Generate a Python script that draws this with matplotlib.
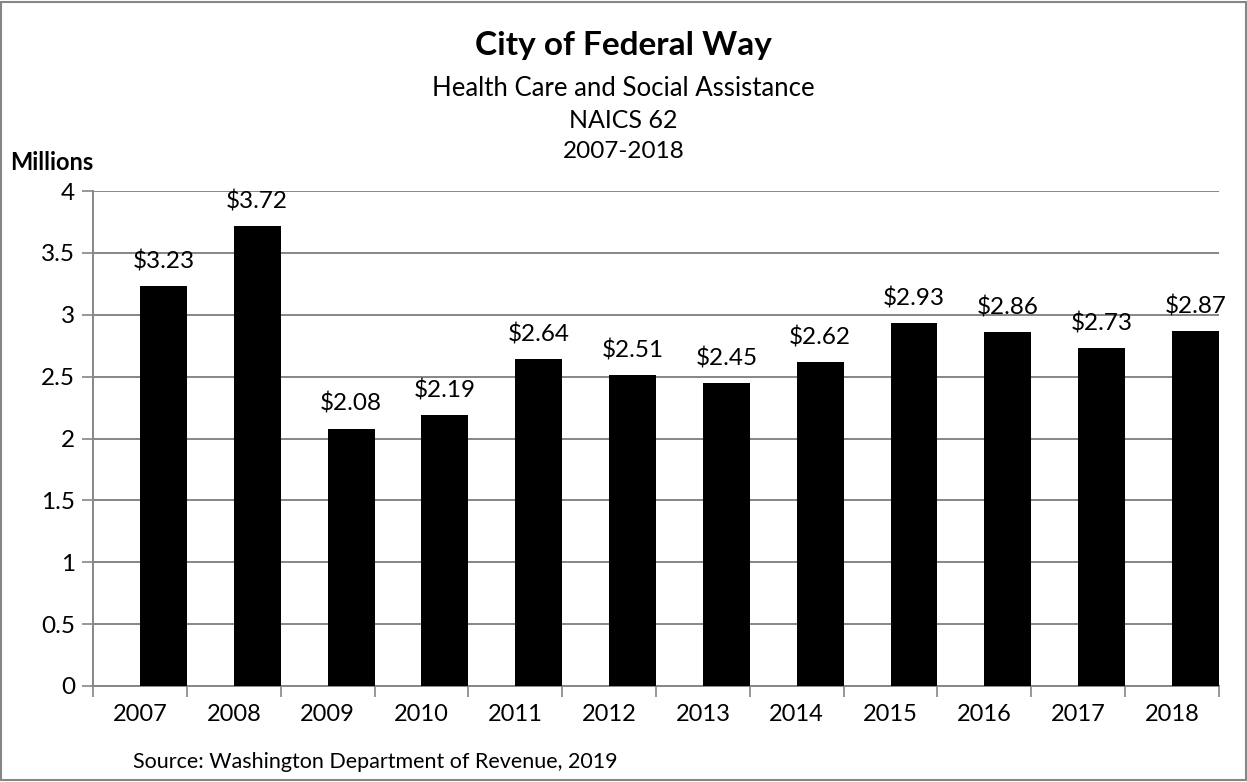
import matplotlib
matplotlib.use('Agg')
import matplotlib.pyplot as plt
from matplotlib.patches import Rectangle

plt.rcParams['font.family'] = ['Lato', 'DejaVu Sans']

# Chart data
years = ['2007', '2008', '2009', '2010', '2011', '2012',
         '2013', '2014', '2015', '2016', '2017', '2018']
values = [3.23, 3.72, 2.08, 2.19, 2.64, 2.51, 2.45, 2.62, 2.93, 2.86, 2.73, 2.87]
y_ticks = [0, 0.5, 1, 1.5, 2, 2.5, 3, 3.5, 4]
y_labels = ['0', '0.5', '1', '1.5', '2', '2.5', '3', '3.5', '4']

grey = '#868686'

fig = plt.figure(figsize=(12.47, 7.82), dpi=100)
ax = fig.add_axes([93 / 1247, 1 - 686 / 782, (1219 - 93) / 1247, (686 - 191) / 782])

x = list(range(len(years)))
# bars sit in the right half of each category slot
bar_x = [i + 0.25 for i in x]
ax.bar(bar_x, values, width=0.5, color='black', zorder=3)

for bx, v in zip(bar_x, values):
    ax.text(bx, v + 0.11, f'${v:.2f}', ha='center', va='bottom', fontsize=17.5)

ax.set_xlim(-0.5, len(years) - 0.5)
ax.set_ylim(0, 4)

ax.set_yticks(y_ticks)
ax.set_yticklabels(y_labels, fontsize=17.5)
ax.set_xticks(x)
ax.set_xticklabels(years, fontsize=17)
ax.tick_params(axis='x', which='major', length=0, pad=13)
ax.set_xticks([i - 0.5 for i in range(len(years) + 1)], minor=True)
ax.tick_params(axis='x', which='minor', length=8, color=grey, width=1.2)
ax.tick_params(axis='y', length=8, color=grey, width=1.2, pad=5)

ax.grid(axis='y', color=grey, linewidth=1.4, zorder=0)
for side in ['top', 'right']:
    ax.spines[side].set_visible(False)
for side in ['left', 'bottom']:
    ax.spines[side].set_color(grey)
    ax.spines[side].set_linewidth(1.4)

# titles
fig.text(0.5, 1 - 45 / 782, 'City of Federal Way', ha='center', va='center',
         fontsize=24, fontweight='bold')
fig.text(0.5, 1 - 88 / 782, 'Health Care and Social Assistance', ha='center',
         va='center', fontsize=18.5)
fig.text(0.5, 1 - 120 / 782, 'NAICS 62', ha='center', va='center', fontsize=18)
fig.text(0.5, 1 - 152 / 782, '2007-2018', ha='center', va='center', fontsize=17.5)

fig.text(10 / 1247, 1 - 163 / 782, 'Millions', ha='left', va='center',
         fontsize=17, fontweight='bold')
fig.text(133 / 1247, 1 - 762 / 782, 'Source: Washington Department of Revenue, 2019',
         ha='left', va='center', fontsize=15.5)

# outer border
fig.patches.append(Rectangle((0.001, 0.003), 0.998, 0.995, transform=fig.transFigure,
                             fill=False, edgecolor=grey, linewidth=1.5))

fig.savefig('out.png', dpi=100)
